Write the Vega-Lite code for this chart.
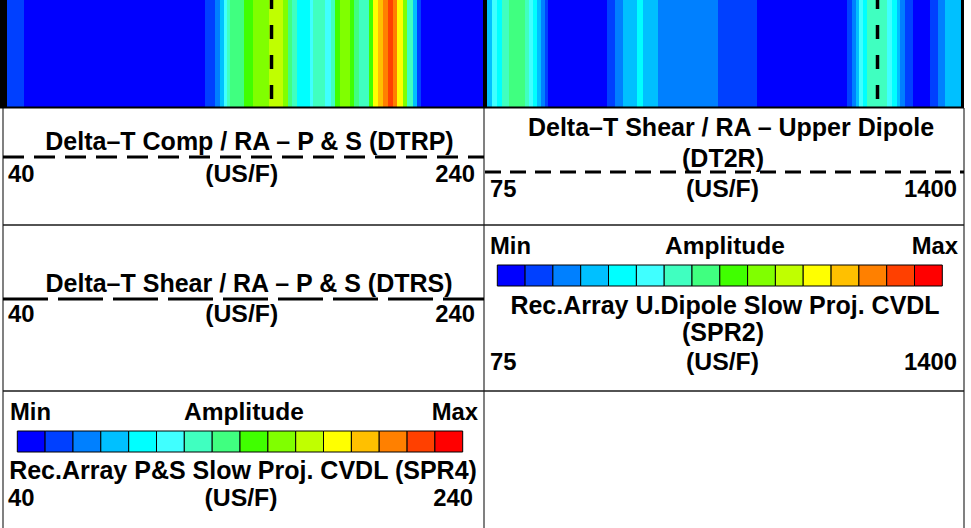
{
  "$schema": "https://vega.github.io/schema/vega-lite/v6.json",
  "width": 971,
  "height": 528,
  "autosize": "none",
  "padding": 0,
  "background": "white",
  "config": {"view": {"stroke": null}, "text": {"font": "Liberation Sans", "fontWeight": "bold", "color": "#000000"}},
  "datasets": {
    "bands": [
      {"x0": 7, "x1": 24, "level": 2}, {"x0": 24, "x1": 205, "level": 1}, {"x0": 205, "x1": 215, "level": 2},
      {"x0": 215, "x1": 220, "level": 3}, {"x0": 220, "x1": 224, "level": 4}, {"x0": 224, "x1": 227, "level": 6},
      {"x0": 227, "x1": 230, "level": 7}, {"x0": 230, "x1": 244, "level": 8}, {"x0": 244, "x1": 253, "level": 9},
      {"x0": 253, "x1": 269, "level": 10}, {"x0": 269, "x1": 283, "level": 11}, {"x0": 283, "x1": 288, "level": 10},
      {"x0": 288, "x1": 292, "level": 8}, {"x0": 292, "x1": 297, "level": 7}, {"x0": 297, "x1": 310, "level": 5},
      {"x0": 310, "x1": 313, "level": 6}, {"x0": 313, "x1": 325, "level": 7}, {"x0": 325, "x1": 331, "level": 6},
      {"x0": 331, "x1": 335, "level": 7}, {"x0": 335, "x1": 340, "level": 9}, {"x0": 340, "x1": 350, "level": 10},
      {"x0": 350, "x1": 354, "level": 9}, {"x0": 354, "x1": 359, "level": 8}, {"x0": 359, "x1": 369, "level": 7},
      {"x0": 369, "x1": 373, "level": 9}, {"x0": 373, "x1": 378, "level": 12}, {"x0": 378, "x1": 383, "level": 13},
      {"x0": 383, "x1": 388, "level": 14}, {"x0": 388, "x1": 393, "level": 15}, {"x0": 393, "x1": 397, "level": 14},
      {"x0": 397, "x1": 403, "level": 12}, {"x0": 403, "x1": 407, "level": 10}, {"x0": 407, "x1": 413, "level": 7},
      {"x0": 413, "x1": 417, "level": 4}, {"x0": 417, "x1": 421, "level": 2}, {"x0": 421, "x1": 483, "level": 1},
      {"x0": 487, "x1": 492, "level": 4}, {"x0": 492, "x1": 497, "level": 6}, {"x0": 497, "x1": 502, "level": 5},
      {"x0": 502, "x1": 509, "level": 7}, {"x0": 509, "x1": 525, "level": 8}, {"x0": 525, "x1": 529, "level": 7},
      {"x0": 529, "x1": 533, "level": 6}, {"x0": 533, "x1": 537, "level": 5}, {"x0": 537, "x1": 541, "level": 4},
      {"x0": 541, "x1": 545, "level": 3}, {"x0": 545, "x1": 548, "level": 2}, {"x0": 548, "x1": 607, "level": 1},
      {"x0": 607, "x1": 615, "level": 2}, {"x0": 615, "x1": 623, "level": 3}, {"x0": 623, "x1": 637, "level": 4},
      {"x0": 637, "x1": 643, "level": 5}, {"x0": 643, "x1": 658, "level": 4}, {"x0": 658, "x1": 718, "level": 3},
      {"x0": 718, "x1": 757, "level": 2}, {"x0": 757, "x1": 847, "level": 1}, {"x0": 847, "x1": 852, "level": 2},
      {"x0": 852, "x1": 856, "level": 3}, {"x0": 856, "x1": 859, "level": 4}, {"x0": 859, "x1": 863, "level": 6},
      {"x0": 863, "x1": 867, "level": 5}, {"x0": 867, "x1": 887, "level": 7}, {"x0": 887, "x1": 892, "level": 6},
      {"x0": 892, "x1": 897, "level": 5}, {"x0": 897, "x1": 900, "level": 4}, {"x0": 900, "x1": 905, "level": 3},
      {"x0": 905, "x1": 913, "level": 2}, {"x0": 913, "x1": 930, "level": 1}, {"x0": 930, "x1": 938, "level": 2},
      {"x0": 938, "x1": 945, "level": 3}, {"x0": 945, "x1": 961, "level": 4}
    ],
    "legend": [
      {"panel": "SPR2", "level": 1, "x0": 497.3, "x1": 525.1}, {"panel": "SPR2", "level": 2, "x0": 525.1, "x1": 552.9},
      {"panel": "SPR2", "level": 3, "x0": 552.9, "x1": 580.7}, {"panel": "SPR2", "level": 4, "x0": 580.7, "x1": 608.5},
      {"panel": "SPR2", "level": 5, "x0": 608.5, "x1": 636.4}, {"panel": "SPR2", "level": 6, "x0": 636.4, "x1": 664.2},
      {"panel": "SPR2", "level": 7, "x0": 664.2, "x1": 692.0}, {"panel": "SPR2", "level": 8, "x0": 692.0, "x1": 719.8},
      {"panel": "SPR2", "level": 9, "x0": 719.8, "x1": 747.6}, {"panel": "SPR2", "level": 10, "x0": 747.6, "x1": 775.4},
      {"panel": "SPR2", "level": 11, "x0": 775.4, "x1": 803.2}, {"panel": "SPR2", "level": 12, "x0": 803.2, "x1": 831.1},
      {"panel": "SPR2", "level": 13, "x0": 831.1, "x1": 858.9}, {"panel": "SPR2", "level": 14, "x0": 858.9, "x1": 886.7},
      {"panel": "SPR2", "level": 15, "x0": 886.7, "x1": 914.5}, {"panel": "SPR2", "level": 16, "x0": 914.5, "x1": 942.3},
      {"panel": "SPR4", "level": 1, "x0": 17.3, "x1": 45.1}, {"panel": "SPR4", "level": 2, "x0": 45.1, "x1": 73.0},
      {"panel": "SPR4", "level": 3, "x0": 73.0, "x1": 100.8}, {"panel": "SPR4", "level": 4, "x0": 100.8, "x1": 128.7},
      {"panel": "SPR4", "level": 5, "x0": 128.7, "x1": 156.5}, {"panel": "SPR4", "level": 6, "x0": 156.5, "x1": 184.3},
      {"panel": "SPR4", "level": 7, "x0": 184.3, "x1": 212.2}, {"panel": "SPR4", "level": 8, "x0": 212.2, "x1": 240.0},
      {"panel": "SPR4", "level": 9, "x0": 240.0, "x1": 267.9}, {"panel": "SPR4", "level": 10, "x0": 267.9, "x1": 295.7},
      {"panel": "SPR4", "level": 11, "x0": 295.7, "x1": 323.5}, {"panel": "SPR4", "level": 12, "x0": 323.5, "x1": 351.4},
      {"panel": "SPR4", "level": 13, "x0": 351.4, "x1": 379.2}, {"panel": "SPR4", "level": 14, "x0": 379.2, "x1": 407.1},
      {"panel": "SPR4", "level": 15, "x0": 407.1, "x1": 434.9}, {"panel": "SPR4", "level": 16, "x0": 434.9, "x1": 462.7}
    ],
    "texts": [
      {"role": "title", "t": "Delta–T Comp / RA – P & S (DTRP)", "x": 249.5, "y": 150},
      {"role": "title", "t": "Delta–T Shear / RA – Upper Dipole", "x": 731, "y": 136},
      {"role": "title", "t": "(DT2R)", "x": 723, "y": 167},
      {"role": "title", "t": "Delta–T Shear / RA – P & S (DTRS)", "x": 249, "y": 291.5},
      {"role": "title", "t": "Rec.Array U.Dipole Slow Proj. CVDL", "x": 725, "y": 314},
      {"role": "title", "t": "(SPR2)", "x": 723, "y": 340.5},
      {"role": "title", "t": "Rec.Array P&S Slow Proj. CVDL (SPR4)", "x": 243, "y": 479},
      {"role": "unit", "t": "(US/F)", "x": 241.7, "y": 182},
      {"role": "unit", "t": "(US/F)", "x": 722.5, "y": 197},
      {"role": "unit", "t": "(US/F)", "x": 241.7, "y": 321.7},
      {"role": "unit", "t": "(US/F)", "x": 722.5, "y": 370},
      {"role": "unit", "t": "(US/F)", "x": 241, "y": 506},
      {"role": "amp", "t": "Amplitude", "x": 725, "y": 254},
      {"role": "amp", "t": "Amplitude", "x": 244, "y": 420},
      {"role": "left", "t": "40", "x": 8, "y": 182},
      {"role": "left", "t": "75", "x": 490, "y": 197},
      {"role": "left", "t": "40", "x": 8, "y": 321.7},
      {"role": "left", "t": "Min", "x": 490, "y": 254},
      {"role": "left", "t": "75", "x": 490, "y": 370},
      {"role": "left", "t": "Min", "x": 10, "y": 420},
      {"role": "left", "t": "40", "x": 8, "y": 506},
      {"role": "right", "t": "240", "x": 475, "y": 182},
      {"role": "right", "t": "1400", "x": 957, "y": 197},
      {"role": "right", "t": "240", "x": 475, "y": 321.7},
      {"role": "right", "t": "Max", "x": 958, "y": 254},
      {"role": "right", "t": "1400", "x": 957, "y": 370},
      {"role": "right", "t": "Max", "x": 478, "y": 420},
      {"role": "right", "t": "240", "x": 473, "y": 506}
    ],
    "lines": [
      {"name": "imgdash", "x0": 271.5, "x1": 271.5, "y0": 0, "y1": 107},
      {"name": "imgdash", "x0": 877.5, "x1": 877.5, "y0": 0, "y1": 107},
      {"name": "top", "x0": 0, "x1": 964, "y0": 107.5, "y1": 107.5},
      {"name": "row", "x0": 3, "x1": 964, "y0": 225, "y1": 225},
      {"name": "row", "x0": 3, "x1": 964, "y0": 391, "y1": 391},
      {"name": "col", "x0": 3, "x1": 3, "y0": 108, "y1": 528},
      {"name": "col", "x0": 484, "x1": 484, "y0": 108, "y1": 528},
      {"name": "col", "x0": 964, "x1": 964, "y0": 108, "y1": 528},
      {"name": "dtrp", "x0": 3, "x1": 484, "y0": 157, "y1": 157},
      {"name": "dt2r", "x0": 485, "x1": 964, "y0": 172, "y1": 172},
      {"name": "dtrs", "x0": 3, "x1": 484, "y0": 299, "y1": 299}
    ],
    "frames": [
      {"x0": 0, "x1": 7},
      {"x0": 483, "x1": 487},
      {"x0": 961, "x1": 964}
    ]
  },
  "layer": [
    {
      "data": {"name": "bands"},
      "mark": {"type": "rect"},
      "encoding": {
        "x": {"field": "x0", "type": "quantitative", "scale": {"domain": [0, 971], "nice": false, "zero": false}, "axis": null},
        "x2": {"field": "x1"},
        "y": {"datum": 0, "type": "quantitative", "scale": {"domain": [0, 528], "nice": false, "zero": false, "reverse": true}, "axis": null},
        "y2": {"datum": 107.5},
        "color": {"field": "level", "type": "ordinal", "legend": null, "scale": {"domain": [1,2,3,4,5,6,7,8,9,10,11,12,13,14,15,16], "range": ["#0000ff","#0040ff","#0080ff","#00c0ff","#00ffff","#40ffff","#40ffc0","#40ff80","#40ff00","#80ff00","#c0ff00","#ffff00","#ffc000","#ff8000","#ff4000","#ff0000"]}}
      }
    },
    {
      "data": {"name": "frames"},
      "mark": {"type": "rect", "color": "#000000"},
      "encoding": {
        "x": {"field": "x0", "type": "quantitative"},
        "x2": {"field": "x1"},
        "y": {"datum": 0, "type": "quantitative"},
        "y2": {"datum": 107.5}
      }
    },
    {
      "data": {"name": "lines"},
      "transform": [{"filter": "datum.name === 'imgdash'"}],
      "mark": {"type": "rule", "color": "#000000", "strokeWidth": 3.5, "strokeDash": [14, 16], "strokeDashOffset": 5},
      "encoding": {"x": {"field": "x0", "type": "quantitative"}, "x2": {"field": "x1"}, "y": {"field": "y0", "type": "quantitative"}, "y2": {"field": "y1"}}
    },
    {
      "data": {"name": "lines"},
      "transform": [{"filter": "datum.name === 'col'"}],
      "mark": {"type": "rule", "color": "#808080", "strokeWidth": 2},
      "encoding": {"x": {"field": "x0", "type": "quantitative"}, "x2": {"field": "x1"}, "y": {"field": "y0", "type": "quantitative"}, "y2": {"field": "y1"}}
    },
    {
      "data": {"name": "lines"},
      "transform": [{"filter": "datum.name === 'top'"}],
      "mark": {"type": "rule", "color": "#000000", "strokeWidth": 2},
      "encoding": {"x": {"field": "x0", "type": "quantitative"}, "x2": {"field": "x1"}, "y": {"field": "y0", "type": "quantitative"}, "y2": {"field": "y1"}}
    },
    {
      "data": {"name": "lines"},
      "transform": [{"filter": "datum.name === 'row'"}],
      "mark": {"type": "rule", "color": "#1a1a1a", "strokeWidth": 1.6},
      "encoding": {"x": {"field": "x0", "type": "quantitative"}, "x2": {"field": "x1"}, "y": {"field": "y0", "type": "quantitative"}, "y2": {"field": "y1"}}
    },
    {
      "data": {"name": "lines"},
      "transform": [{"filter": "datum.name === 'dtrp'"}],
      "mark": {"type": "rule", "color": "#000000", "strokeWidth": 3, "strokeDash": [21, 10]},
      "encoding": {"x": {"field": "x0", "type": "quantitative"}, "x2": {"field": "x1"}, "y": {"field": "y0", "type": "quantitative"}, "y2": {"field": "y1"}}
    },
    {
      "data": {"name": "lines"},
      "transform": [{"filter": "datum.name === 'dt2r'"}],
      "mark": {"type": "rule", "color": "#000000", "strokeWidth": 3, "strokeDash": [16, 9]},
      "encoding": {"x": {"field": "x0", "type": "quantitative"}, "x2": {"field": "x1"}, "y": {"field": "y0", "type": "quantitative"}, "y2": {"field": "y1"}}
    },
    {
      "data": {"name": "lines"},
      "transform": [{"filter": "datum.name === 'dtrs'"}],
      "mark": {"type": "rule", "color": "#000000", "strokeWidth": 3, "strokeDash": [45, 10]},
      "encoding": {"x": {"field": "x0", "type": "quantitative"}, "x2": {"field": "x1"}, "y": {"field": "y0", "type": "quantitative"}, "y2": {"field": "y1"}}
    },
    {
      "data": {"name": "legend"},
      "transform": [{"filter": "datum.panel === 'SPR2'"}],
      "mark": {"type": "rect", "stroke": "#000000", "strokeWidth": 1},
      "encoding": {
        "x": {"field": "x0", "type": "quantitative"},
        "x2": {"field": "x1"},
        "y": {"datum": 265, "type": "quantitative"},
        "y2": {"datum": 286},
        "color": {"field": "level", "type": "ordinal", "legend": null}
      }
    },
    {
      "data": {"name": "legend"},
      "transform": [{"filter": "datum.panel === 'SPR4'"}],
      "mark": {"type": "rect", "stroke": "#000000", "strokeWidth": 1},
      "encoding": {
        "x": {"field": "x0", "type": "quantitative"},
        "x2": {"field": "x1"},
        "y": {"datum": 431, "type": "quantitative"},
        "y2": {"datum": 452},
        "color": {"field": "level", "type": "ordinal", "legend": null}
      }
    },
    {
      "data": {"name": "texts"},
      "transform": [{"filter": "datum.role === 'title'"}],
      "mark": {"type": "text", "align": "center", "baseline": "alphabetic", "fontSize": 25},
      "encoding": {"x": {"field": "x", "type": "quantitative"}, "y": {"field": "y", "type": "quantitative"}, "text": {"field": "t"}}
    },
    {
      "data": {"name": "texts"},
      "transform": [{"filter": "datum.role === 'unit'"}],
      "mark": {"type": "text", "align": "center", "baseline": "alphabetic", "fontSize": 24.8},
      "encoding": {"x": {"field": "x", "type": "quantitative"}, "y": {"field": "y", "type": "quantitative"}, "text": {"field": "t"}}
    },
    {
      "data": {"name": "texts"},
      "transform": [{"filter": "datum.role === 'amp'"}],
      "mark": {"type": "text", "align": "center", "baseline": "alphabetic", "fontSize": 24.5},
      "encoding": {"x": {"field": "x", "type": "quantitative"}, "y": {"field": "y", "type": "quantitative"}, "text": {"field": "t"}}
    },
    {
      "data": {"name": "texts"},
      "transform": [{"filter": "datum.role === 'left'"}],
      "mark": {"type": "text", "align": "left", "baseline": "alphabetic", "fontSize": 23.8},
      "encoding": {"x": {"field": "x", "type": "quantitative"}, "y": {"field": "y", "type": "quantitative"}, "text": {"field": "t"}}
    },
    {
      "data": {"name": "texts"},
      "transform": [{"filter": "datum.role === 'right'"}],
      "mark": {"type": "text", "align": "right", "baseline": "alphabetic", "fontSize": 23.8},
      "encoding": {"x": {"field": "x", "type": "quantitative"}, "y": {"field": "y", "type": "quantitative"}, "text": {"field": "t"}}
    }
  ]
}
